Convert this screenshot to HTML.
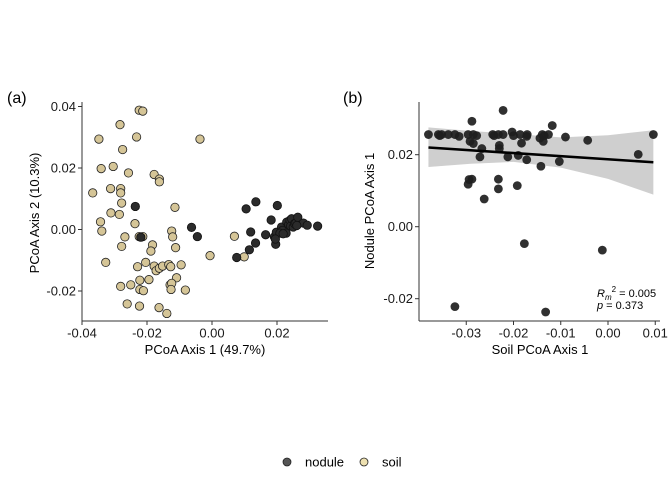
<!DOCTYPE html>
<html><head><meta charset="utf-8">
<style>
html,body{margin:0;padding:0;background:#fff;}
svg{display:block;font-family:"Liberation Sans",Arial,sans-serif;}
</style></head>
<body>
<svg id="c" width="672" height="480" viewBox="0 0 672 480"></svg>
<script>
// Panel (a) data
const soilX=[-0.0224,-0.0213,-0.0283,-0.0348,-0.0037,-0.0232,-0.0275,-0.0341,-0.0304,-0.0257,-0.0178,-0.0162,-0.0162,-0.0367,-0.0312,-0.0281,-0.0281,-0.0278,-0.0114,-0.0311,-0.0285,-0.0343,-0.0339,-0.0237,-0.0268,-0.0224,-0.0213,-0.0183,-0.0188,-0.0124,-0.0121,-0.0112,-0.0278,-0.0327,-0.0229,-0.0204,-0.0178,-0.0172,-0.0162,-0.0152,-0.0133,-0.0127,-0.0095,-0.0109,-0.0281,-0.0250,-0.0222,-0.0194,-0.0222,-0.0211,-0.0129,-0.0124,-0.0126,-0.0082,-0.0261,-0.0223,-0.0163,-0.0139,0.0069,0.0099,-0.0006];
const soilY=[0.0388,0.0385,0.0341,0.0294,0.0294,0.0301,0.0260,0.0198,0.0205,0.0184,0.0179,0.0164,0.0155,0.0119,0.0133,0.0133,0.0119,0.0086,0.0072,0.0054,0.0049,0.0025,-0.0005,0.0019,-0.0024,-0.0023,-0.0023,-0.0050,-0.0070,-0.0005,-0.0024,-0.0059,-0.0055,-0.0107,-0.0121,-0.0107,-0.0119,-0.0134,-0.0126,-0.0119,-0.0114,-0.0121,-0.0115,-0.0157,-0.0185,-0.0180,-0.0165,-0.0163,-0.0195,-0.0199,-0.0180,-0.0175,-0.0195,-0.0197,-0.0242,-0.0249,-0.0254,-0.0273,-0.0022,-0.0089,-0.0085];
const nodX=[-0.0236,-0.0063,-0.0045,-0.0219,0.0076,0.0105,0.0135,0.0201,0.0182,0.0119,0.0134,0.0165,0.0192,0.0196,0.0198,0.0214,0.0217,0.0228,0.0230,0.0236,0.0240,0.0242,0.0245,0.0250,0.0254,0.0258,0.0264,0.0281,0.0293,0.0325,0.0209,0.0195,0.0115,0.0261,0.0219];
const nodY=[0.0075,0.0007,-0.0023,-0.0025,-0.0091,0.0067,0.0090,0.0078,0.0031,-0.0008,-0.0044,-0.0017,-0.0024,-0.0048,-0.0009,0.0008,-0.0003,-0.0012,0.0024,0.0016,0.0030,0.0011,0.0035,0.0008,0.0019,0.0021,0.0040,0.0021,0.0014,0.0011,-0.0012,-0.0031,-0.0066,0.0013,-0.0014];
const aXTicks=[-0.04,-0.02,0.00,0.02];
const aXLabels=["-0.04","-0.02","0.00","0.02"];
const aYTicks=[-0.02,0.00,0.02,0.04];
const aYLabels=["-0.02","0.00","0.02","0.04"];
// Panel (b) data
const bX=[-0.0380,-0.0359,-0.0352,-0.0356,-0.0338,-0.0324,-0.0315,-0.0296,-0.0292,-0.0288,-0.0296,-0.0294,-0.0288,-0.0285,-0.0278,-0.0267,-0.0271,-0.0262,-0.0244,-0.0241,-0.0232,-0.0230,-0.0230,-0.0232,-0.0232,-0.0222,-0.0222,-0.0212,-0.0203,-0.0200,-0.0192,-0.0190,-0.0186,-0.0183,-0.0177,-0.0172,-0.0172,-0.0171,-0.0142,-0.0144,-0.0139,-0.0137,-0.0135,-0.0126,-0.0118,-0.0132,-0.0090,-0.0103,-0.0043,-0.0012,0.0064,0.0096,-0.0324,-0.0285];
const bY=[0.0256,0.0256,0.0256,0.0253,0.0256,0.0256,0.0251,0.0256,0.0237,0.0132,0.0118,0.0131,0.0293,0.0231,0.0253,0.0217,0.0194,0.0077,0.0256,0.0253,0.0256,0.0226,0.0217,0.0132,0.0105,0.0323,0.0256,0.0194,0.0263,0.0253,0.0114,0.0198,0.0256,0.0232,-0.0047,0.0251,0.0186,0.0256,0.0168,0.0246,0.0256,0.0237,0.0253,0.0256,0.0281,-0.0237,0.0249,0.0181,0.0240,-0.0065,0.0201,0.0256,-0.0222,0.0256];
const fitX=[-0.0380,0.0096];
const fitY=[0.0220,0.0179];
const bandX=[-0.0380,-0.0290,-0.0200,-0.0100,0.0000,0.0096];
const bandHi=[0.0276,0.0266,0.0258,0.0248,0.0254,0.0268];
const bandLo=[0.0166,0.0175,0.0180,0.0164,0.0133,0.0089];
const bXTicks=[-0.03,-0.02,-0.01,0.00,0.01];
const bXLabels=["-0.03","-0.02","-0.01","0.00","0.01"];
const bYTicks=[-0.02,0.00,0.02];
const bYLabels=["-0.02","0.00","0.02"];

const NS="http://www.w3.org/2000/svg";
const svg=document.getElementById('c');
function el(tag,attrs,parent,text){const e=document.createElementNS(NS,tag);for(const k in attrs)e.setAttribute(k,attrs[k]);if(text!==undefined)e.textContent=text;(parent||svg).appendChild(e);return e;}

const ax=v=>212+3250*v, ay=v=>229.5-3075*v;
const bx=v=>608+4725*v, by=v=>226.7-3600*v;

function axes(g,left,right,top,bottom,xt,xl,yt,yl,sx,sy,name){
  const xa=el('line',{x1:left,y1:bottom,x2:right,y2:bottom,stroke:'#333','stroke-width':1},g);
  
  
  const ya=el('line',{x1:left,y1:top,x2:left,y2:bottom,stroke:'#333','stroke-width':1},g);
  
  
  xt.forEach((v,i)=>{
    el('line',{x1:sx(v),y1:bottom,x2:sx(v),y2:bottom+4,stroke:'#333'},g);
    const t=el('text',{x:sx(v),y:bottom+16.5,'text-anchor':'middle','font-size':13,fill:'#1a1a1a'},g,xl[i]);
    
    
  });
  yt.forEach((v,i)=>{
    el('line',{x1:left-4,y1:sy(v),x2:left,y2:sy(v),stroke:'#333'},g);
    const t=el('text',{x:left-6,y:sy(v)+4.5,'text-anchor':'end','font-size':13,fill:'#1a1a1a'},g,yl[i]);
    
    
  });
}

const ga=el('g',{});


const la=el('text',{x:7,y:103,'font-size':16,fill:'#000'},ga,'(a)');


axes(ga,82,328,102,321,aXTicks,aXLabels,aYTicks,aYLabels,ax,ay,'panel-a');
soilX.forEach((v,i)=>{
  const c=el('circle',{cx:ax(v),cy:ay(soilY[i]),r:4.2,fill:'#d5c597',stroke:'#222','stroke-width':0.8},ga);
  
  
});
nodX.forEach((v,i)=>{
  const c=el('circle',{cx:ax(v),cy:ay(nodY[i]),r:4.2,fill:'#2b2b2b',stroke:'#111','stroke-width':0.8},ga);
  
  
});
const xta=el('text',{x:205,y:354,'text-anchor':'middle','font-size':13,fill:'#000'},ga,'PCoA Axis 1 (49.7%)');


const yta=el('text',{x:0,y:0,'text-anchor':'middle','font-size':13,fill:'#000',transform:'translate(39,213) rotate(-90)'},ga,'PCoA Axis 2 (10.3%)');



const gb=el('g',{});


const lb=el('text',{x:343,y:103,'font-size':16,fill:'#000'},gb,'(b)');


let pts=bandX.map((v,i)=>bx(v)+','+by(bandHi[i]));
for(let i=bandX.length-1;i>=0;i--)pts.push(bx(bandX[i])+','+by(bandLo[i]));
const band=el('polygon',{points:pts.join(' '),fill:'#cfcfcf',stroke:'none'},gb);


axes(gb,419,660,102,321,bXTicks,bXLabels,bYTicks,bYLabels,bx,by,'panel-b');
bX.forEach((v,i)=>{
  const c=el('circle',{cx:bx(v),cy:by(bY[i]),r:4.4,fill:'#1e1e1e','fill-opacity':0.92},gb);
  
  
});
const fl=el('line',{x1:bx(fitX[0]),y1:by(fitY[0]),x2:bx(fitX[1]),y2:by(fitY[1]),stroke:'#000','stroke-width':2.6},gb);


const r2=el('text',{x:597,y:297,'font-size':11,fill:'#000'},gb);


r2.innerHTML='<tspan font-style="italic">R</tspan><tspan font-style="italic" font-size="8" dy="3">m</tspan><tspan font-size="8" dy="-8">2</tspan><tspan dy="5"> = 0.005</tspan>';
const pv=el('text',{x:597,y:309,'font-size':11,fill:'#000'},gb);


pv.innerHTML='<tspan font-style="italic">p</tspan> = 0.373';
const xtb=el('text',{x:540,y:354,'text-anchor':'middle','font-size':13,fill:'#000'},gb,'Soil PCoA Axis 1');


const ytb=el('text',{x:0,y:0,'text-anchor':'middle','font-size':13,fill:'#000',transform:'translate(374,211) rotate(-90)'},gb,'Nodule PCoA Axis 1');



const lg=el('g',{});


const c1=el('circle',{cx:287,cy:462,r:4,fill:'#555',stroke:'#222','stroke-width':0.8},lg);


const t1=el('text',{x:305,y:466.5,'font-size':13,fill:'#000'},lg,'nodule');


const c2=el('circle',{cx:364,cy:462,r:4,fill:'#ede0b0',stroke:'#222','stroke-width':0.8},lg);


const t2=el('text',{x:382,y:466.5,'font-size':13,fill:'#000'},lg,'soil');


</script>
</body></html>
